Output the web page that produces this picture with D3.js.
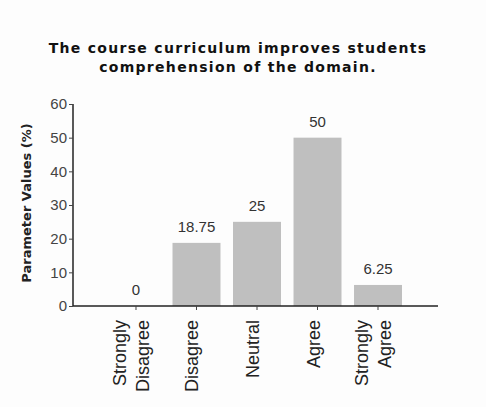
<!DOCTYPE html>
<html><head><meta charset="utf-8">
<script src="https://cdn.jsdelivr.net/npm/d3@7"></script>
<style>body{margin:0;background:#fff}</style>
</head><body>
<script>
const categories = [["Strongly","Disagree"],["Disagree"],["Neutral"],["Agree"],["Strongly","Agree"]];
const values = [0, 18.75, 25, 50, 6.25];
const valueLabels = ["0","18.75","25","50","6.25"];
const yTicks = [0,10,20,30,40,50,60];
const titleLines = ["The course curriculum improves students","comprehension of the domain."];
const yLabel = "Parameter Values (%)";

const W=486,H=407;
const svg=d3.select("body").append("svg").attr("width",W).attr("height",H);
svg.append("rect").attr("width",W).attr("height",H).attr("fill","#fdfdfd");

const ids=categories.map((c,i)=>i);
const x=d3.scaleBand().domain(ids).range([112,402]).paddingInner(0.207).paddingOuter(0);
const y=d3.scaleLinear().domain([0,60]).range([306,104]);

// title
svg.append("g").selectAll("text").data(titleLines).join("text")
 .attr("x",238).attr("y",(d,i)=>53+i*19).attr("text-anchor","middle")
 .attr("font-family","DejaVu Sans").attr("font-weight","bold").attr("font-size",14)
 .attr("letter-spacing",1.3)
 .attr("fill","#111").text(d=>d);

// y label
svg.append("text").attr("transform","translate(31,203) rotate(-90)")
 .attr("text-anchor","middle").attr("font-family","DejaVu Sans").attr("font-weight","bold")
 .attr("font-size",13).attr("fill","#222").text(yLabel);

// bars
svg.append("g").selectAll("rect").data(values).join("rect")
 .attr("x",(d,i)=>x(i)).attr("width",x.bandwidth())
 .attr("y",d=>y(d)).attr("height",d=>y(0)-y(d))
 .attr("fill","#bfbfbf");

// value labels
svg.append("g").selectAll("text").data(values).join("text")
 .attr("x",(d,i)=>x(i)+x.bandwidth()/2).attr("y",d=>y(d)-11)
 .attr("text-anchor","middle").attr("font-family","Liberation Sans, Arial")
 .attr("font-size",15).attr("fill","#333").text((d,i)=>valueLabels[i]);

// y axis
const ya=svg.append("g").attr("transform","translate(73,0)")
 .call(d3.axisLeft(y).tickValues(yTicks).tickSize(4).tickFormat(d3.format("d")));
ya.select(".domain").attr("stroke","#222").attr("stroke-width",1.5).attr("d","M0,104V306");
ya.selectAll(".tick line").attr("stroke","#444");
ya.selectAll("text").attr("font-family","Liberation Sans, Arial").attr("font-size",15).attr("fill","#444").attr("x",-6);

// x axis
const xa=svg.append("g").attr("transform","translate(0,306)")
 .call(d3.axisBottom(x).tickSize(4).tickFormat(""));
xa.select(".domain").attr("stroke","#222").attr("stroke-width",1.5).attr("d","M73,0H438");
xa.selectAll(".tick line").attr("stroke","#444");

// x labels
const lab=svg.append("g").selectAll("text").data(categories).join("text")
 .attr("transform",(d,i)=>{const cx=x(i)+x.bandwidth()/2; const off=(d.length-1)*12; return `translate(${cx-4-off+6},320) rotate(-90)`;})
 .attr("text-anchor","end").attr("font-family","Liberation Sans, Arial").attr("font-size",18).attr("fill","#222");
lab.selectAll("tspan").data(d=>d).join("tspan")
 .attr("x",0).attr("dy",(d,i)=>i===0?0:23).text(d=>d);
</script>
</body></html>
